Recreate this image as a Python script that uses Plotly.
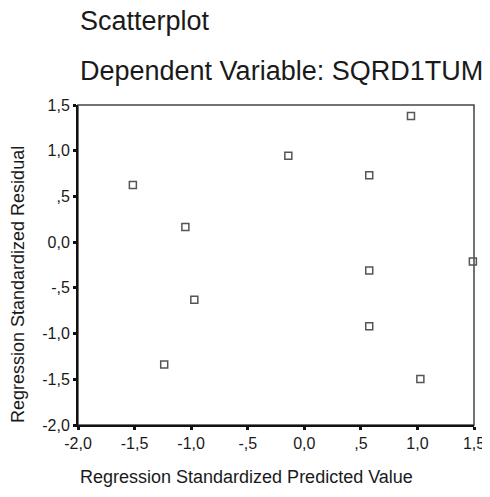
import plotly.graph_objects as go

predicted = [-1.515, -1.051, -0.972, -1.238, -0.141, 0.574, 0.574, 0.574, 0.943, 1.026, 1.49]
residual = [0.626, 0.166, -0.631, -1.337, 0.944, 0.732, -0.309, -0.920, 1.379, -1.497, -0.211]

tick_vals = [-2.0, -1.5, -1.0, -0.5, 0.0, 0.5, 1.0, 1.5]
tick_text = ["-2,0", "-1,5", "-1,0", "-,5", "0,0", ",5", "1,0", "1,5"]

title1 = "Scatterplot"
title2 = "Dependent Variable: SQRD1TUM"
xtitle = "Regression Standardized Predicted Value"
ytitle = "Regression Standardized Residual"

FONT = "Liberation Sans, Arial, sans-serif"
TXT = "#1a1a1a"

fig = go.Figure()
fig.add_trace(go.Scatter(
    x=predicted, y=residual, mode="markers",
    marker=dict(symbol="square-open", size=7, color="#555555", line=dict(width=1.5)),
    showlegend=False, cliponaxis=False,
))

axis_common = dict(
    range=[-2, 1.5], tickvals=tick_vals, ticktext=tick_text, automargin=False,
    showgrid=False, zeroline=False, showline=True, linecolor="#111111", linewidth=2,
    ticks="outside", ticklen=3, tickwidth=3, tickcolor="#111111",
    tickfont=dict(family=FONT, size=16, color=TXT),
)
fig.update_xaxes(**axis_common)
fig.update_yaxes(**axis_common)

fig.add_shape(type="rect", xref="paper", yref="paper", x0=0, y0=0, x1=1, y1=1,
              line=dict(color="#444444", width=1.5), layer="below")

fig.update_layout(
    width=482, height=481,
    margin=dict(l=70, r=16, t=97, b=64),
    paper_bgcolor="white", plot_bgcolor="white",
    font=dict(family=FONT, color=TXT),
    annotations=[
        dict(text=title1, xref="paper", yref="paper", x=0, y=1.262, xanchor="left", yanchor="middle",
             showarrow=False, font=dict(size=27, family=FONT, color=TXT)),
        dict(text=title2, xref="paper", yref="paper", x=0, y=1.106, xanchor="left", yanchor="middle",
             showarrow=False, font=dict(size=27, family=FONT, color=TXT)),
        dict(text=xtitle, xref="paper", yref="paper", x=0, y=-0.1625, xanchor="left", yanchor="middle",
             showarrow=False, font=dict(size=18, family=FONT, color=TXT)),
        dict(text=ytitle, xref="paper", yref="paper", x=-0.152, y=0.44, xanchor="center", yanchor="middle",
             textangle=-90, showarrow=False, font=dict(size=18, family=FONT, color=TXT)),
    ],
)

fig.write_html("out.html")
